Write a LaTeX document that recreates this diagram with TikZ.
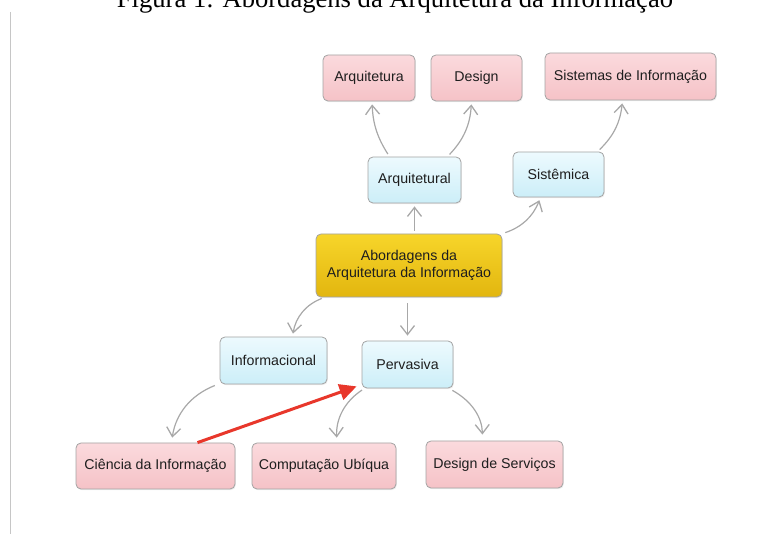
\documentclass[tikz,border=0pt]{standalone}
\usepackage{fontspec}
\setmainfont{Liberation Serif}
\setsansfont{Liberation Sans}
\usetikzlibrary{arrows.meta,positioning,shadows}

\definecolor{pinktop}{HTML}{FBDADD}
\definecolor{pinkbot}{HTML}{F5C2C7}
\definecolor{bluetop}{HTML}{EDFAFE}
\definecolor{bluebot}{HTML}{CCEEF8}
\definecolor{goldtop}{HTML}{F7D52A}
\definecolor{goldbot}{HTML}{E2B60F}
\definecolor{boxline}{HTML}{A3A3A3}
\definecolor{linkgray}{HTML}{A8A8A8}
\definecolor{redarrow}{HTML}{E8372B}
\definecolor{txt}{HTML}{1E1E1E}

\begin{document}
\begin{tikzpicture}[x=1pt,y=1pt,
    box/.style={draw=boxline,line width=0.8pt,rounded corners=5pt,inner sep=0pt,
      align=center,text=txt,font=\sffamily\fontsize{14.2}{17}\selectfont,minimum height=46pt,
      drop shadow={opacity=0.15,shadow xshift=0.8pt,shadow yshift=-1.2pt}},
    leaf/.style={box,top color=pinktop,bottom color=pinkbot},
    topic/.style={box,top color=bluetop,bottom color=bluebot},
    root/.style={box,top color=goldtop,bottom color=goldbot},
    link/.style={color=linkgray,line width=1.2pt,
      -{Straight Barb[length=9pt,width=14pt,line width=1.3pt]},shorten >=3pt,shorten <=3pt},
    red link/.style={draw=redarrow,line width=3pt,-{Triangle[length=17pt,width=16pt]}}]

    \useasboundingbox (0,0) rectangle (769,-534);
    \clip (0,0) rectangle (769,-534);

    % caption, cut at the top
    \node[font=\fontsize{26.6}{30}\selectfont,anchor=base,inner sep=0pt] (title) at (395,-7.5)
      {Figura 1: Abordagens da Arquitetura da Informação};
    \draw[gray!45,line width=1.5pt] (10.5,-12) -- (10.5,-534);

    % boxes
    \node[leaf,minimum width=92pt] (arq) at (369,-78) {Arquitetura};
    \node[leaf,minimum width=91pt] (des) at (476.5,-78) {Design};
    \node[leaf,minimum width=171pt,minimum height=47pt] (sis) at (630.5,-76.5) {Sistemas de Informação};
    \node[topic,minimum width=93pt] (arqtl) at (414.5,-180) {Arquitetural};
    \node[topic,minimum width=91pt,minimum height=45pt] (sist) at (558.5,-174.5) {Sistêmica};
    \node[root,minimum width=186pt,minimum height=63pt] (abord) at (409,-265.5)
      {Abordagens da\\Arquitetura da Informação};
    \node[topic,minimum width=107pt,minimum height=47pt] (info) at (273.5,-360.5) {Informacional};
    \node[topic,minimum width=91pt,minimum height=47pt] (perv) at (407.5,-364.5) {Pervasiva};
    \node[leaf,minimum width=159pt] (cien) at (155.5,-466) {Ciência da Informação};
    \node[leaf,minimum width=144pt] (comp) at (324,-466) {Computação Ubíqua};
    \node[leaf,minimum width=137pt,minimum height=47pt] (dser) at (494.5,-464.5) {Design de Serviços};

    % links
    \path[link] ([xshift=-25pt]arqtl.north) edge [bend left=15] ([xshift=3pt]arq.south)
                ([xshift=33pt]arqtl.north) edge [bend right=20] ([xshift=-5pt]des.south)
                ([xshift=39pt]sist.north) edge [bend right=20] ([xshift=-8pt]sis.south)
                (abord.north -| arqtl.south) edge (arqtl.south)
                (abord.north east) edge [bend right=25] ([xshift=-18pt]sist.south)
                ([xshift=9pt]abord.south west) edge [bend right=30] ([xshift=19pt]info.north)
                (perv.north |- abord.south) edge [shorten <=6pt,shorten >=5pt] (perv.north)
                ([xshift=-2pt]info.south west) edge [bend right=30,shorten >=5pt] ([xshift=16pt]cien.north)
                ([xshift=3pt]perv.south west) edge [bend right=30,shorten >=5pt] ([xshift=13pt]comp.north)
                ([xshift=-1pt,yshift=-2pt]perv.south east) edge [bend left=30,shorten <=0pt,shorten >=6pt] ([xshift=-12pt]dser.north);

    \draw[red link] ([xshift=42pt]cien.north) -- ([xshift=-5pt,yshift=2pt]perv.south west);

\end{tikzpicture}
\end{document}
